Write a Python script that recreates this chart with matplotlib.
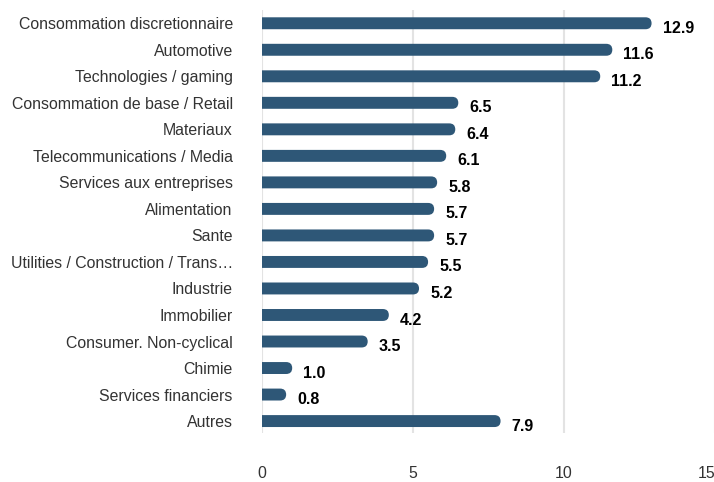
import matplotlib.pyplot as plt
from matplotlib.patches import FancyBboxPatch

plt.rcParams["font.family"] = ["Liberation Sans", "DejaVu Sans"]

secteurs = [
    "Consommation discretionnaire",
    "Automotive",
    "Technologies / gaming",
    "Consommation de base / Retail",
    "Materiaux",
    "Telecommunications / Media",
    "Services aux entreprises",
    "Alimentation",
    "Sante",
    "Utilities / Construction / Trans\u2026",
    "Industrie",
    "Immobilier",
    "Consumer. Non-cyclical",
    "Chimie",
    "Services financiers",
    "Autres",
]
valeurs = [12.9, 11.6, 11.2, 6.5, 6.4, 6.1, 5.8, 5.7, 5.7, 5.5, 5.2, 4.2, 3.5, 1.0, 0.8, 7.9]
graduations = [0, 5, 10, 15]

couleur_barre = "#2e5777"
hauteur = 0.45

fig = plt.figure(figsize=(7.14, 4.82), dpi=100)
ax = fig.add_axes([262 / 714, 1 - 433 / 482, 453 / 714, 423 / 482])

ax.set_xlim(0, 15)
ax.set_ylim(len(secteurs) - 0.55, -0.5)

# barres avec extremite droite arrondie (la partie gauche est coupee par l'axe)
rayon = 0.2
aspect = (ax.get_position().width * 714 / 15) / (ax.get_position().height * 482 / 16.05)
for i, v in enumerate(valeurs):
    boite = FancyBboxPatch(
        (-0.5, i - hauteur / 2), v + 0.5, hauteur,
        boxstyle=f"round,pad=0,rounding_size={rayon}",
        mutation_aspect=aspect,
        facecolor=couleur_barre, edgecolor="none", zorder=3,
    )
    ax.add_patch(boite)
    ax.text(v + 0.37, i + 0.19, f"{v:.1f}", ha="left", va="center",
            fontsize=11.5, fontweight="bold", color="black", zorder=4)

for g in graduations:
    ax.axvline(g, color="#e3e3e3", linewidth=1.5, zorder=1)

ax.set_yticks(range(len(secteurs)))
ax.set_yticklabels(secteurs, fontsize=11.4, color="#333333")
ax.set_xticks(graduations)
ax.set_xticklabels([str(g) for g in graduations], fontsize=11.4, color="#333333")
ax.tick_params(axis="y", length=0, pad=21)
ax.tick_params(axis="x", length=0, pad=24)
# la derniere graduation tombe au bord droit : on la cale a droite
ax.get_xticklabels()[-1].set_horizontalalignment("right")

for s in ax.spines.values():
    s.set_visible(False)

fig.savefig("out.png", dpi=100)
